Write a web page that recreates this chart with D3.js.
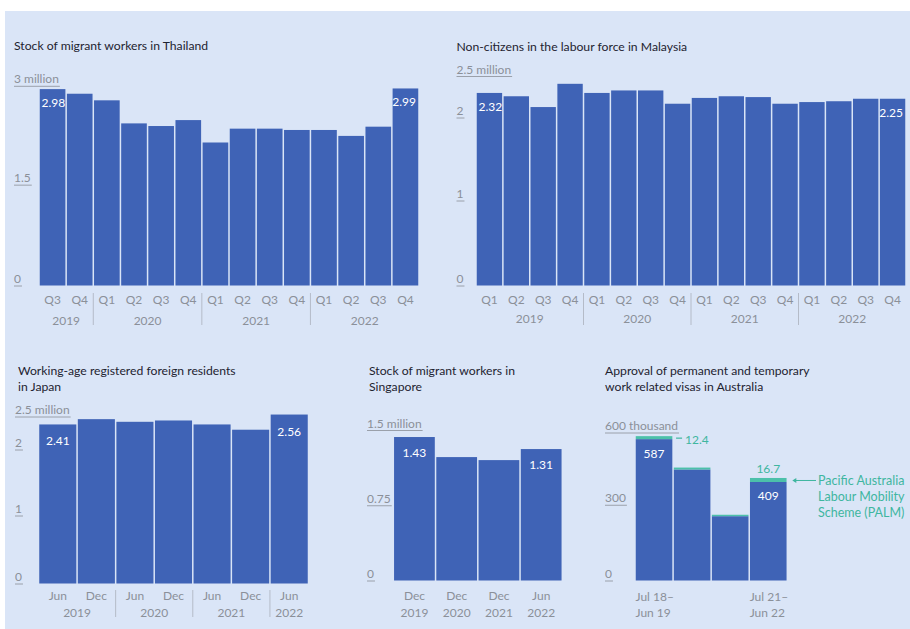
<!DOCTYPE html>
<html>
<head>
<meta charset="utf-8">
<script src="https://cdn.jsdelivr.net/npm/d3@7"></script>
<style>
  html, body { margin: 0; padding: 0; background: #ffffff; }
  svg { display: block; font-family: Lato, "Open Sans", sans-serif; }
</style>
</head>
<body>
<svg id="chart" width="910" height="629"></svg>
<script>
// ---------------- DATA ----------------
const thaiTitle = ["Stock of migrant workers in Thailand"];
const thaiQuarters = ["Q3","Q4","Q1","Q2","Q3","Q4","Q1","Q2","Q3","Q4","Q1","Q2","Q3","Q4"];
const thaiYears = ["2019","2020","2021","2022"];
const thaiYearCounts = [2,4,4,4];
const thaiValues = [2.98, 2.91, 2.81, 2.46, 2.42, 2.51, 2.17, 2.38, 2.38, 2.36, 2.36, 2.27, 2.41, 2.99];
const thaiTicks = [0, 1.5, 3];
const thaiTickLabels = ["0", "1.5", "3 million"];

const malayTitle = ["Non-citizens in the labour force in Malaysia"];
const malayQuarters = ["Q1","Q2","Q3","Q4","Q1","Q2","Q3","Q4","Q1","Q2","Q3","Q4","Q1","Q2","Q3","Q4"];
const malayYears = ["2019","2020","2021","2022"];
const malayYearCounts = [4,4,4,4];
const malayValues = [2.32, 2.28, 2.15, 2.43, 2.32, 2.35, 2.35, 2.19, 2.26, 2.28, 2.27, 2.19, 2.21, 2.22, 2.25, 2.25];
const malayTicks = [0, 1, 2, 2.5];
const malayTickLabels = ["0", "1", "2", "2.5 million"];

const japanTitle = ["Working-age registered foreign residents", "in Japan"];
const japanPeriods = ["Jun","Dec","Jun","Dec","Jun","Dec","Jun"];
const japanYears = ["2019","2020","2021","2022"];
const japanYearCounts = [2,2,2,1];
const japanValues = [2.41, 2.49, 2.45, 2.47, 2.41, 2.33, 2.56];
const japanTicks = [0, 1, 2, 2.5];
const japanTickLabels = ["0", "1", "2", "2.5 million"];

const sgTitle = ["Stock of migrant workers in", "Singapore"];
const sgPeriods = ["Dec","Dec","Dec","Jun"];
const sgYears = ["2019","2020","2021","2022"];
const sgValues = [1.43, 1.23, 1.20, 1.31];
const sgTicks = [0, 0.75, 1.5];
const sgTickLabels = ["0", "0.75", "1.5 million"];

const ausTitle = ["Approval of permanent and temporary", "work related visas in Australia"];
const ausPeriodsTop = ["Jul 18\u2013", "", "", "Jul 21\u2013"];
const ausPeriodsBottom = ["Jun 19", "", "", "Jun 22"];
const ausOther = [587, 461, 267, 409];
const ausPalm = [12.4, 8.0, 6.0, 16.7];
const ausTicks = [0, 300, 600];
const ausTickLabels = ["0", "300", "600 thousand"];
const ausLegend = ["Pacific Australia", "Labour Mobility", "Scheme (PALM)"];

// ---------------- STYLE ----------------
const BG = "#dae5f7";
const BAR = "#3f63b6";
const TEAL = "#4cc0aa";
const TEAL_TEXT = "#3fb6a0";
const GREY = "#8b9099";
const TITLE = "#1e2330";

const svg = d3.select("#chart");
svg.append("rect").attr("x", 5).attr("y", 11).attr("width", 905).attr("height", 618).attr("fill", BG);

function drawTitle(lines, x, y) {
  const t = svg.append("text").attr("x", x).attr("y", y)
    .attr("font-size", 12.2).attr("fill", TITLE);
  lines.forEach((l, i) => t.append("tspan").attr("x", x).attr("dy", i === 0 ? 0 : 16.3).text(l));
}

function drawYTicks(g, y, ticks, labels, x, lift) {
  ticks.forEach((v, i) => {
    const ty = v === 0 ? y(v) : y(v) - lift;
    const txt = g.append("text").attr("x", x).attr("y", ty - 2.5)
      .attr("font-size", 12).attr("fill", GREY).text(labels[i]);
    const w = txt.node().getComputedTextLength();
    g.append("line").attr("x1", x).attr("x2", x + w + 1)
      .attr("y1", ty + 0.5).attr("y2", ty + 0.5)
      .attr("stroke", "#9aa0aa").attr("stroke-width", 1);
  });
}

function drawBars(g, x, y, values, fill) {
  g.selectAll(null).data(values).enter().append("rect")
    .attr("x", (d, i) => x(i) + 0.75)
    .attr("width", x.bandwidth() - 1.5)
    .attr("y", d => y(d))
    .attr("height", d => y(0) - y(d))
    .attr("fill", fill);
}

function drawValueLabel(g, x, y, i, v, text, anchor, offset) {
  let lx;
  if (anchor === "start") lx = x(i) + 2.5;
  else if (anchor === "end") lx = x(i) + x.bandwidth() - 3;
  else lx = x(i) + x.bandwidth() / 2;
  g.append("text").attr("x", lx).attr("y", y(v) + offset)
    .attr("text-anchor", anchor).attr("font-size", 12).attr("fill", "#ffffff").text(text);
}

function drawXAxis(g, x, base, labels, yOff) {
  const ax = d3.axisBottom(x).tickSize(0).tickPadding(0).tickFormat(i => labels[i]);
  const ag = g.append("g").attr("transform", `translate(0,${base + yOff})`).call(ax);
  ag.select(".domain").remove();
  ag.selectAll("text").attr("font-size", 12).attr("fill", GREY)
    .attr("font-family", "Lato, 'Open Sans', sans-serif").attr("dy", 0);
  return ag;
}

function drawYears(g, x, years, counts, yy, sepTop, sepBot, seps) {
  let start = 0;
  years.forEach((yr, k) => {
    const n = counts[k];
    const x0 = x(start), x1 = x(start + n - 1) + x.bandwidth();
    g.append("text").attr("x", (x0 + x1) / 2).attr("y", yy)
      .attr("text-anchor", "middle").attr("font-size", 12).attr("fill", GREY).text(yr);
    if (seps && k > 0) {
      g.append("line").attr("x1", x0).attr("x2", x0).attr("y1", sepTop).attr("y2", sepBot)
        .attr("stroke", "#b4bbc8").attr("stroke-width", 1);
    }
    start += n;
  });
}

// ---------------- THAILAND ----------------
(function () {
  const g = svg.append("g");
  drawTitle(thaiTitle, 14, 50);
  const x = d3.scaleBand().domain(d3.range(thaiValues.length)).range([39, 419]).padding(0);
  const y = d3.scaleLinear().domain([0, 3]).range([285.5, 87.8]);
  drawYTicks(g, y, thaiTicks, thaiTickLabels, 14, 2);
  drawBars(g, x, y, thaiValues, BAR);
  drawValueLabel(g, x, y, 0, thaiValues[0], thaiValues[0].toFixed(2), "start", 18);
  const L = thaiValues.length - 1;
  drawValueLabel(g, x, y, L, thaiValues[L], thaiValues[L].toFixed(2), "end", 18);
  drawXAxis(g, x, 285.5, thaiQuarters, 18.5);
  drawYears(g, x, thaiYears, thaiYearCounts, 324.5, 293, 325, true);
})();

// ---------------- MALAYSIA ----------------
(function () {
  const g = svg.append("g");
  drawTitle(malayTitle, 456.5, 50.5);
  const x = d3.scaleBand().domain(d3.range(malayValues.length)).range([476, 906]).padding(0);
  const y = d3.scaleLinear().domain([0, 2.5]).range([285.5, 78]);
  drawYTicks(g, y, malayTicks, malayTickLabels, 456.5, 2);
  drawBars(g, x, y, malayValues, BAR);
  drawValueLabel(g, x, y, 0, malayValues[0], malayValues[0].toFixed(2), "start", 18);
  const L = malayValues.length - 1;
  drawValueLabel(g, x, y, L, malayValues[L], malayValues[L].toFixed(2), "end", 18);
  drawXAxis(g, x, 285.5, malayQuarters, 18.5);
  drawYears(g, x, malayYears, malayYearCounts, 322.5, 293, 325, true);
})();

// ---------------- JAPAN ----------------
(function () {
  const g = svg.append("g");
  drawTitle(japanTitle, 18, 375);
  const x = d3.scaleBand().domain(d3.range(japanValues.length)).range([38.5, 308.5]).padding(0);
  const y = d3.scaleLinear().domain([0, 2.5]).range([583.5, 418.5]);
  drawYTicks(g, y, japanTicks, japanTickLabels, 15, 2);
  drawBars(g, x, y, japanValues, BAR);
  drawValueLabel(g, x, y, 0, japanValues[0], japanValues[0].toFixed(2), "middle", 21);
  const L = japanValues.length - 1;
  drawValueLabel(g, x, y, L, japanValues[L], japanValues[L].toFixed(2), "middle", 21);
  drawXAxis(g, x, 583.5, japanPeriods, 16.5);
  drawYears(g, x, japanYears, japanYearCounts, 617, 590, 617, true);
})();

// ---------------- SINGAPORE ----------------
(function () {
  const g = svg.append("g");
  drawTitle(sgTitle, 369, 375);
  const x = d3.scaleBand().domain(d3.range(sgValues.length)).range([393.3, 562.3]).padding(0);
  const y = d3.scaleLinear().domain([0, 1.5]).range([580.5, 430]);
  drawYTicks(g, y, sgTicks, sgTickLabels, 367, 0);
  drawBars(g, x, y, sgValues, BAR);
  drawValueLabel(g, x, y, 0, sgValues[0], sgValues[0].toFixed(2), "middle", 19.5);
  const L = sgValues.length - 1;
  drawValueLabel(g, x, y, L, sgValues[L], sgValues[L].toFixed(2), "middle", 19.5);
  drawXAxis(g, x, 580.5, sgPeriods, 19.5);
  drawYears(g, x, sgYears, [1,1,1,1], 617, 0, 0, false);
})();

// ---------------- AUSTRALIA ----------------
(function () {
  const g = svg.append("g");
  drawTitle(ausTitle, 605, 375);
  const x = d3.scaleBand().domain(d3.range(ausOther.length)).range([635, 787.3]).padding(0);
  const y = d3.scaleLinear().domain([0, 600]).range([580.5, 436]);
  drawYTicks(g, y, ausTicks, ausTickLabels, 605, 3.5);
  const stacked = ausOther.map((v, i) => ({ i, a: v, b: v + ausPalm[i] }));
  g.selectAll(null).data(stacked).enter().append("rect")
    .attr("x", d => x(d.i) + 0.75).attr("width", x.bandwidth() - 1.5)
    .attr("y", d => y(d.a)).attr("height", d => y(0) - y(d.a)).attr("fill", BAR);
  g.selectAll(null).data(stacked).enter().append("rect")
    .attr("x", d => x(d.i) + 0.75).attr("width", x.bandwidth() - 1.5)
    .attr("y", d => y(d.b)).attr("height", d => y(d.a) - y(d.b)).attr("fill", TEAL);
  [0, 3].forEach(i => {
    g.append("text").attr("x", x(i) + x.bandwidth() / 2).attr("y", y(ausOther[i]) + 18.5)
      .attr("text-anchor", "middle").attr("font-size", 12).attr("fill", "#fff")
      .text(String(ausOther[i]));
  });
  // PALM annotations
  const b0 = stacked[0];
  const yb0 = y(b0.b) + 2;
  g.append("line").attr("x1", x(0) + x.bandwidth() + 3).attr("x2", x(0) + x.bandwidth() + 9)
    .attr("y1", yb0).attr("y2", yb0).attr("stroke", TEAL_TEXT).attr("stroke-width", 1.2);
  g.append("text").attr("x", x(0) + x.bandwidth() + 12).attr("y", yb0 + 6)
    .attr("font-size", 12).attr("fill", TEAL_TEXT).text(ausPalm[0].toFixed(1));
  const b3 = stacked[3];
  g.append("text").attr("x", x(3) + x.bandwidth() / 2).attr("y", y(b3.b) - 5)
    .attr("text-anchor", "middle").attr("font-size", 12).attr("fill", TEAL_TEXT)
    .text(ausPalm[3].toFixed(1));
  const ly = (y(b3.b) + y(b3.a)) / 2 + 0.5;
  const ax0 = x(3) + x.bandwidth() + 5;
  g.append("line").attr("x1", ax0 + 2).attr("x2", 816).attr("y1", ly).attr("y2", ly)
    .attr("stroke", TEAL_TEXT).attr("stroke-width", 1);
  g.append("path").attr("d", `M${ax0},${ly} l4,-2.5 l0,5 z`).attr("fill", TEAL_TEXT);
  const lt = g.append("text").attr("x", 818).attr("y", ly + 5)
    .attr("font-size", 12.5).attr("fill", TEAL_TEXT);
  ausLegend.forEach((l, i) => lt.append("tspan").attr("x", 818).attr("dy", i === 0 ? 0 : 16).text(l));
  // x labels
  ausPeriodsTop.forEach((t, i) => {
    if (!t) return;
    g.append("text").attr("x", x(i) + 0.5).attr("y", 601).attr("font-size", 12)
      .attr("fill", GREY).text(t);
    g.append("text").attr("x", x(i) + 0.5).attr("y", 617).attr("font-size", 12)
      .attr("fill", GREY).text(ausPeriodsBottom[i]);
  });
})();
</script>
</body>
</html>
